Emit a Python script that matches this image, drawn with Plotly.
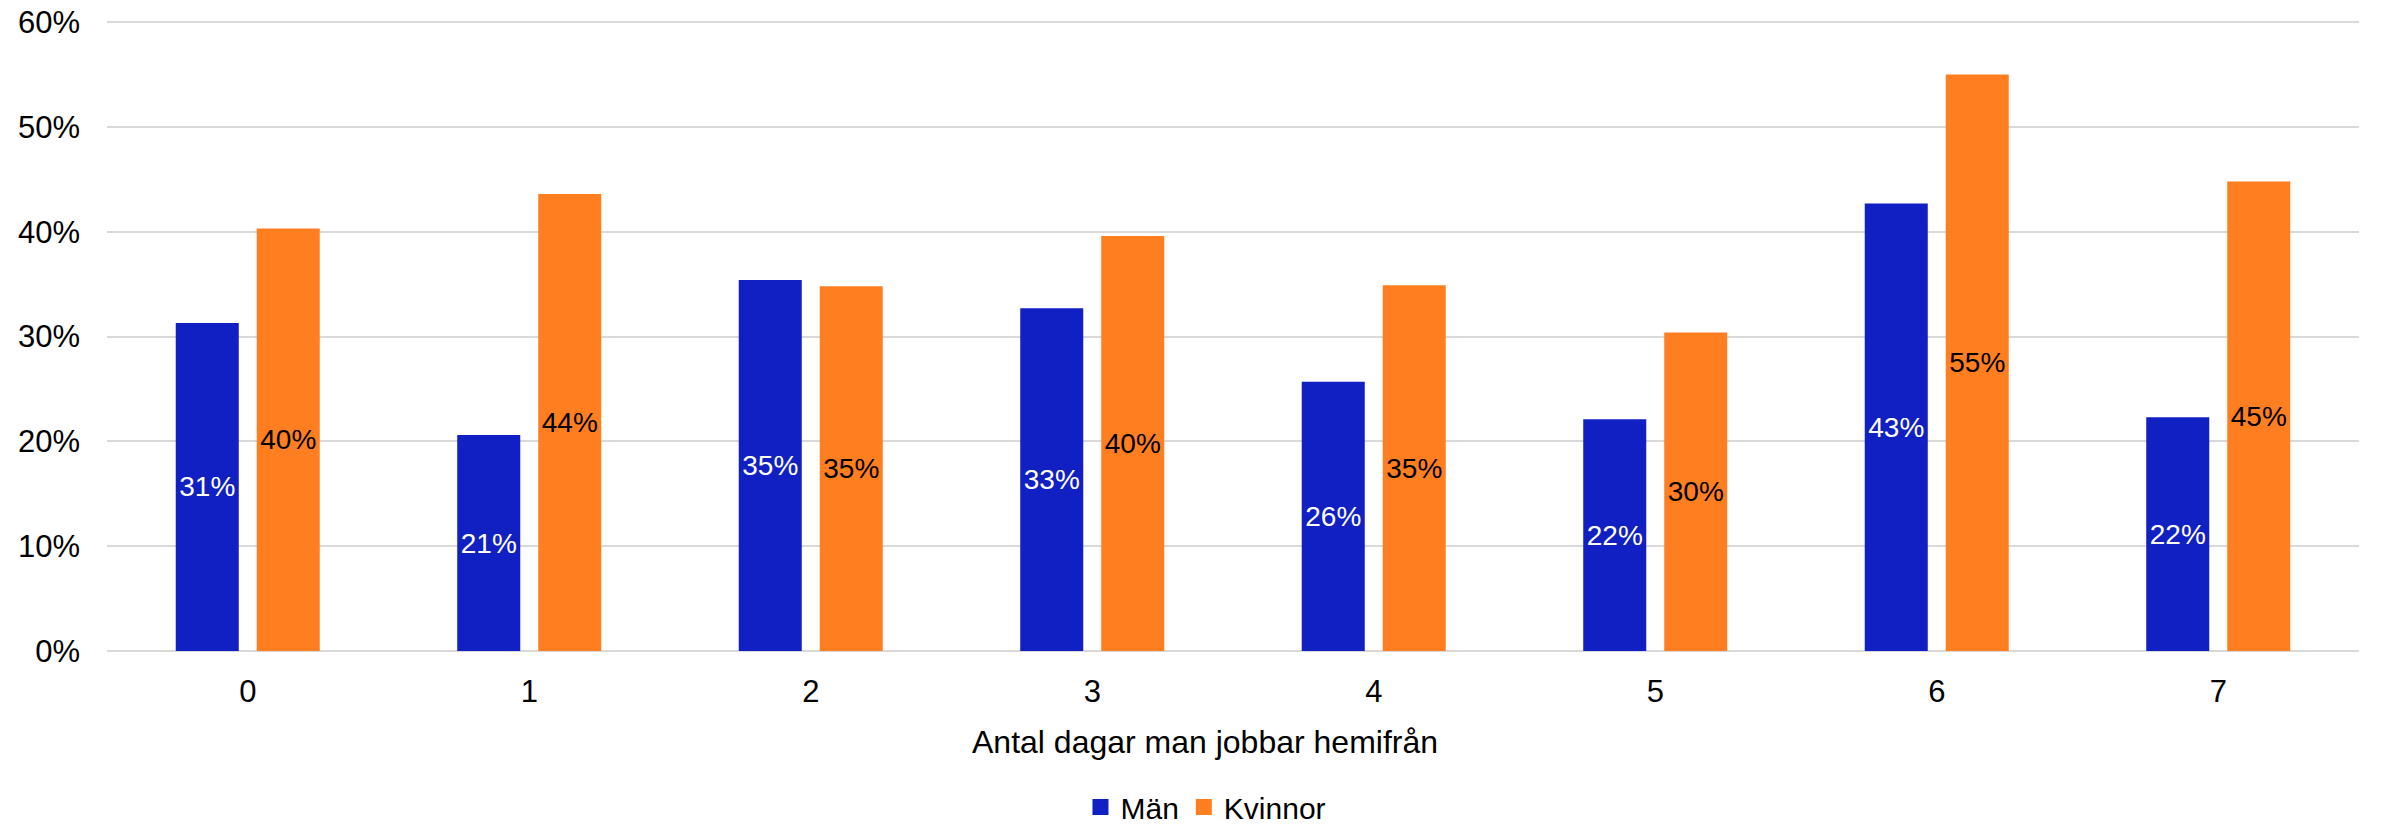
import plotly.graph_objects as go

categories = ["0", "1", "2", "3", "4", "5", "6", "7"]
man = [0.313, 0.206, 0.354, 0.327, 0.257, 0.221, 0.427, 0.223]
kvinnor = [0.403, 0.436, 0.348, 0.396, 0.349, 0.304, 0.550, 0.448]
y_ticks = [0, 0.1, 0.2, 0.3, 0.4, 0.5, 0.6]
y_ticklabels = ["0%", "10%", "20%", "30%", "40%", "50%", "60%"]
series_names = ["Män", "Kvinnor"]
x_title = "Antal dagar man jobbar hemifrån"

FONT = "Liberation Sans, Arial, sans-serif"
BLUE = "#1020C2"
ORANGE = "#FF7F20"
colors = [BLUE, ORANGE]

fig = go.Figure()
fig.add_trace(go.Bar(
    x=categories, y=man, name=series_names[0], showlegend=False,
    marker=dict(color=BLUE, line=dict(width=0)),
    text=[f"{v*100:.0f}%" for v in man],
    textposition="inside", insidetextanchor="middle",
    textfont=dict(color="white", size=28, family=FONT),
    textangle=0,
))
fig.add_trace(go.Bar(
    x=categories, y=kvinnor, name=series_names[1], showlegend=False,
    marker=dict(color=ORANGE, line=dict(width=0)),
    text=[f"{v*100:.0f}%" for v in kvinnor],
    textposition="inside", insidetextanchor="middle",
    textfont=dict(color="black", size=28, family=FONT),
    textangle=0,
))
# legend entries with square markers (legend only)
for name, col in zip(series_names, colors):
    fig.add_trace(go.Scatter(
        x=[None], y=[None], mode="markers", name=name,
        marker=dict(symbol="square", size=16, color=col, line=dict(width=0)),
        showlegend=True,
    ))

fig.update_layout(
    width=2390, height=824,
    margin=dict(l=107, r=31, t=19, b=173, autoexpand=False),
    paper_bgcolor="white", plot_bgcolor="white",
    font=dict(family=FONT, size=31, color="black"),
    barmode="group", bargap=0.4245, bargroupgap=0.222,
    uniformtext=dict(mode="show", minsize=10),
    showlegend=True,
    legend=dict(
        orientation="h", x=0.488, xanchor="center",
        y=-0.2468, yanchor="middle",
        font=dict(size=30, family=FONT, color="black"),
        itemwidth=30, tracegroupgap=0,
    ),
    xaxis=dict(
        type="category", showgrid=False, showline=False, zeroline=False,
        ticks="", tickfont=dict(size=31, family=FONT, color="black"),
        ticklabelstandoff=19,
    ),
    yaxis=dict(
        range=[0, 0.603], tickvals=y_ticks, ticktext=y_ticklabels,
        showgrid=True, gridcolor="#D9D9D9", gridwidth=2,
        zeroline=True, zerolinecolor="#D9D9D9", zerolinewidth=2,
        showline=False, ticks="",
        tickfont=dict(size=31, family=FONT, color="black"),
        ticklabelstandoff=26,
    ),
    annotations=[dict(
        text=x_title, xref="paper", yref="paper",
        x=0.4876, y=-0.144, xanchor="center", yanchor="middle",
        showarrow=False, font=dict(size=32, family=FONT, color="black"),
    )],
)

# remove the browser's default 8px body margin so the figure fills the window
fig.write_html(
    "out.html",
    config={"displayModeBar": False},
    post_script="document.body.style.margin='0';document.body.style.overflow='hidden';",
)
